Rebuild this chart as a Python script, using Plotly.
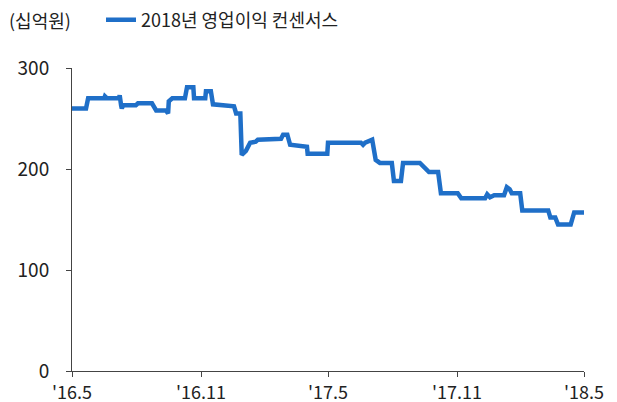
import plotly.graph_objects as go

dates = [
    "2016-05-01", "2016-05-21", "2016-05-24", "2016-06-16", "2016-06-17", "2016-06-20",
    "2016-07-07", "2016-07-08", "2016-07-10", "2016-07-11", "2016-07-13", "2016-07-31",
    "2016-08-03", "2016-08-23", "2016-08-29", "2016-09-12", "2016-09-15", "2016-09-16",
    "2016-09-21", "2016-10-09", "2016-10-12", "2016-10-21", "2016-10-22", "2016-11-07",
    "2016-11-08", "2016-11-15", "2016-11-18", "2016-12-05", "2016-12-12", "2016-12-18",
    "2016-12-21", "2016-12-27", "2016-12-29", "2017-01-04", "2017-01-10", "2017-01-18",
    "2017-01-21", "2017-02-07", "2017-02-10", "2017-02-23", "2017-02-26", "2017-03-04",
    "2017-03-08", "2017-03-29", "2017-04-01", "2017-04-02", "2017-04-30", "2017-05-01",
    "2017-06-17", "2017-06-20", "2017-06-23", "2017-07-03", "2017-07-08", "2017-07-14",
    "2017-07-31", "2017-08-03", "2017-08-13", "2017-08-16", "2017-09-09", "2017-09-22",
    "2017-10-05", "2017-10-09", "2017-11-02", "2017-11-07", "2017-12-11", "2017-12-14",
    "2017-12-18", "2017-12-24", "2018-01-07", "2018-01-11", "2018-01-15", "2018-01-18",
    "2018-01-30", "2018-02-02", "2018-02-17", "2018-02-22", "2018-02-26", "2018-03-11",
    "2018-03-14", "2018-03-21", "2018-03-25", "2018-04-01", "2018-04-04", "2018-04-08",
    "2018-04-12", "2018-04-17", "2018-05-01",
]
consensus = [
    260, 260, 270, 270, 272, 270,
    270, 273, 263, 260, 263, 263,
    265, 265, 258, 258, 255, 267,
    270, 270, 281, 281, 270, 270,
    277, 277, 264, 263, 262, 262,
    255, 255, 214, 218, 226, 227,
    229, 229, 230, 230, 234, 234,
    224, 223, 222, 215, 215, 226,
    226, 224, 226, 229, 209, 206,
    206, 188, 188, 206, 206, 197,
    197, 176, 176, 171, 171, 175,
    172, 174, 174, 182, 180, 176,
    176, 159, 159, 158, 159, 159,
    152, 152, 145, 145, 146, 145,
    145, 157, 157,
]

tick_vals = ["2016-05-01", "2016-11-01", "2017-05-01", "2017-11-01", "2018-05-01"]
tick_text = ["'16.5", "'16.11", "'17.5", "'17.11", "'18.5"]
y_ticks = [0, 100, 200, 300]

FONT = "Noto Sans CJK KR, Noto Sans, sans-serif"
BLUE = "#1f6fc8"
AXIS = "#444444"

fig = go.Figure()
fig.add_trace(go.Scatter(
    x=dates, y=consensus, mode="lines", name="2018년 영업이익 컨센서스",
    line=dict(color=BLUE, width=4.5),
))

fig.update_layout(
    width=617, height=402,
    margin=dict(l=72, r=33, t=68, b=31, autoexpand=False),
    paper_bgcolor="white", plot_bgcolor="white",
    font=dict(family=FONT, size=18, color="#222222"),
    showlegend=True,
    legend=dict(orientation="h", x=101 / 617, xref="container",
                y=1 - 20 / 402, yref="container",
                xanchor="left", yanchor="middle",
                font=dict(size=18, family=FONT),
                bgcolor="rgba(0,0,0,0)"),
    xaxis=dict(
        type="date", range=["2016-05-01", "2018-05-01"],
        tickmode="array", tickvals=tick_vals, ticktext=tick_text,
        showgrid=False, zeroline=False, automargin=False,
        showline=True, linecolor=AXIS, linewidth=1,
        ticks="outside", ticklen=5, tickcolor=AXIS,
        tickfont=dict(size=18, family=FONT), ticklabelstandoff=0,
    ),
    yaxis=dict(
        range=[0, 300], tickmode="array", tickvals=y_ticks,
        showgrid=False, zeroline=False, automargin=False,
        showline=True, linecolor=AXIS, linewidth=1,
        ticks="outside", ticklen=5, tickcolor=AXIS,
        tickfont=dict(size=19, family=FONT), ticklabelstandoff=13,
    ),
    annotations=[dict(
        text="(십억원)", x=(7 - 72) / 512, y=(371 - 20) / 303,
        xref="paper", yref="paper",
        xanchor="left", yanchor="middle",
        showarrow=False, font=dict(size=18, family=FONT),
    )],
)

fig.write_html(
    "out.html",
    config={"displayModeBar": False},
    post_script="document.body.style.margin='0';document.body.style.overflow='hidden';",
)
